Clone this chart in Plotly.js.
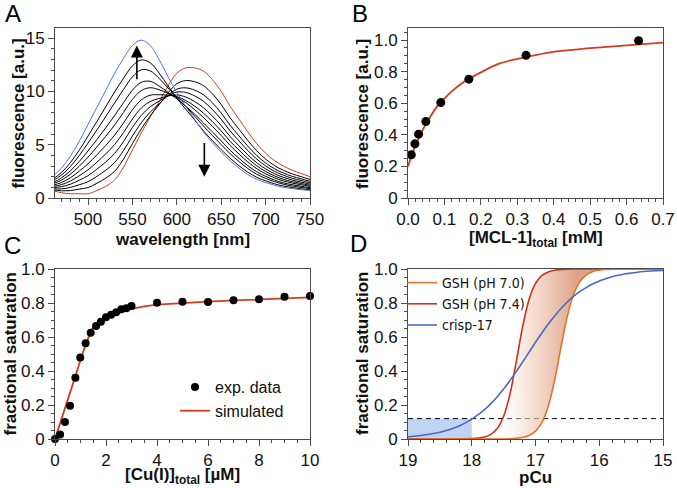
<!DOCTYPE html>
<html><head><meta charset="utf-8">
<script src="https://cdn.plot.ly/plotly-3.0.1.min.js"></script>
<style>html,body{margin:0;padding:0;background:#fff;}#chart{width:677px;height:488px;}</style>
</head><body><div id="chart"></div>
<script>
// ---------- Panel A: emission spectra ----------
const wavelength = [460,470,480,490,500,510,520,530,540,550,560,570,580,590,600,610,620,630,640,650,660,670,680,690,700,710,720,730,740,750];
const specStart = [0.7,0.5,0.4,0.4,0.4,0.7,1.1,1.7,2.9,4.5,6.1,7.6,9.0,10.5,11.7,12.2,12.2,11.9,11.1,10.0,8.6,7.4,6.2,5.1,4.2,3.5,3.0,2.6,2.3,2.0];
const spec1 = [0.77,0.68,0.70,0.83,0.98,1.38,1.86,2.51,3.65,5.10,6.48,7.69,8.74,9.85,10.71,11.01,10.90,10.54,9.77,8.77,7.52,6.45,5.39,4.43,3.65,3.04,2.60,2.26,2.00,1.74];
const spec2 = [0.86,0.86,0.99,1.24,1.53,2.03,2.61,3.33,4.45,5.81,7.06,8.05,8.82,9.61,10.21,10.33,10.12,9.68,8.93,7.97,6.82,5.83,4.86,3.99,3.29,2.74,2.34,2.03,1.80,1.57];
const spec3 = [0.97,1.06,1.29,1.66,2.09,2.71,3.38,4.18,5.30,6.62,7.75,8.55,9.08,9.59,9.93,9.90,9.58,9.07,8.30,7.38,6.29,5.36,4.45,3.65,3.01,2.50,2.14,1.85,1.64,1.43];
const spec4 = [1.07,1.25,1.58,2.08,2.64,3.36,4.14,5.02,6.14,7.41,8.43,9.05,9.33,9.56,9.66,9.47,9.05,8.47,7.69,6.79,5.77,4.89,4.05,3.31,2.73,2.27,1.94,1.68,1.49,1.30];
const spec5 = [1.19,1.45,1.89,2.51,3.21,4.05,4.93,5.90,7.04,8.27,9.20,9.64,9.68,9.64,9.50,9.15,8.62,7.96,7.17,6.29,5.32,4.49,3.70,3.02,2.49,2.07,1.76,1.53,1.36,1.19];
const spec6 = [1.32,1.67,2.23,2.97,3.83,4.79,5.79,6.85,8.03,9.24,10.07,10.34,10.15,9.83,9.45,8.94,8.29,7.55,6.73,5.86,4.93,4.13,3.38,2.75,2.27,1.89,1.60,1.40,1.24,1.09];
const spec7 = [1.43,1.88,2.54,3.41,4.41,5.48,6.59,7.74,8.94,10.11,10.85,10.94,10.50,9.91,9.29,8.62,7.87,7.04,6.20,5.35,4.48,3.72,3.03,2.46,2.03,1.68,1.42,1.25,1.10,0.97];
const spec8 = [1.60,2.15,2.94,3.97,5.15,6.38,7.64,8.92,10.18,11.35,12.02,11.92,11.22,10.32,9.44,8.57,7.69,6.75,5.87,5.00,4.16,3.42,2.76,2.23,1.84,1.53,1.29,1.12,0.99,0.88];
const spec9 = [1.74,2.39,3.30,4.47,5.81,7.18,8.56,9.95,11.23,12.39,12.95,12.68,11.72,10.52,9.37,8.33,7.33,6.30,5.38,4.53,3.73,3.03,2.42,1.94,1.61,1.33,1.12,0.98,0.86,0.77];
const specEnd = [2.0,2.8,3.9,5.3,6.9,8.5,10.1,11.7,13.1,14.3,14.8,14.3,13.0,11.4,9.9,8.6,7.4,6.2,5.2,4.3,3.5,2.8,2.2,1.75,1.45,1.2,1.0,0.88,0.78,0.7];
const arrowX = [555, 631];
const arrowFrom = [11.0, 5.3];
const arrowTo = [14.3, 2.0];

// ---------- Panel B: titration ----------
const mclPoints = [0.009,0.019,0.029,0.049,0.09,0.167,0.324,0.633];
const fluoPoints = [0.274,0.343,0.404,0.484,0.604,0.752,0.903,0.996];
const mclFit = [0,0.01,0.02,0.03,0.04,0.05,0.06,0.08,0.1,0.12,0.15,0.2,0.25,0.3,0.35,0.4,0.45,0.5,0.6,0.7];
const fluoFit = [0.20,0.27,0.33,0.38,0.43,0.47,0.51,0.58,0.63,0.675,0.73,0.795,0.85,0.88,0.905,0.925,0.937,0.948,0.966,0.983];

// ---------- Panel C: Cu(I) titration ----------
const cuPoints = [0,0.2,0.39,0.59,0.8,0.99,1.2,1.4,1.61,1.8,2.0,2.2,2.4,2.6,2.8,3.0,4,5,6,7,8,9,10];
const satPoints = [0,0.027,0.10,0.196,0.36,0.48,0.563,0.625,0.665,0.69,0.716,0.731,0.745,0.763,0.769,0.782,0.802,0.808,0.806,0.816,0.822,0.837,0.841];
const cuSim = [0,0.2,0.4,0.6,0.8,1.0,1.2,1.4,1.5,1.6,1.8,2.0,2.2,2.5,3.0,3.5,4,5,6,7,8,9,10];
const satSim = [0,0.09,0.18,0.275,0.37,0.465,0.555,0.63,0.66,0.675,0.695,0.712,0.725,0.742,0.765,0.78,0.79,0.80,0.808,0.815,0.822,0.828,0.833];

// ---------- Panel D: pCu ----------
const pCu = [19.0,18.9,18.8,18.7,18.6,18.5,18.4,18.3,18.2,18.1,18.0,17.9,17.8,17.7,17.6,17.5,17.4,17.3,17.2,17.1,17.0,16.9,16.8,16.7,16.6,16.5,16.4,16.3,16.2,16.1,16.0,15.9,15.8,15.7,15.6,15.5,15.4,15.3,15.2,15.1,15.0];
const gshPH70 = [0,0,0,0,0,0,0,0,0,0,0,0,0,0,0,0,0.001,0.004,0.010,0.021,0.046,0.096,0.192,0.345,0.540,0.723,0.853,0.928,0.966,0.985,0.993,0.997,0.999,1,1,1,1,1,1,1,1];
const gshPH74 = [0,0,0,0,0,0,0,0,0,0.001,0.002,0.005,0.012,0.027,0.062,0.134,0.265,0.458,0.664,0.822,0.915,0.962,0.983,0.993,0.997,0.999,1,1,1,1,1,1,1,1,1,1,1,1,1,1,1];
const crisp17 = [0.013,0.016,0.021,0.026,0.032,0.040,0.050,0.062,0.077,0.095,0.117,0.143,0.173,0.208,0.249,0.294,0.345,0.398,0.454,0.511,0.569,0.624,0.676,0.724,0.768,0.806,0.840,0.868,0.892,0.913,0.929,0.943,0.954,0.963,0.971,0.976,0.981,0.985,0.988,0.990,0.992];
const threshold = 0.12;
const thresholdX = [19, 15];
const shadeX = [19, 18];

// ---------- styles ----------
const FONT = 'Liberation Sans, Arial, Helvetica, sans-serif';
const NARROW = 'Liberation Sans Narrow, DejaVu Sans Condensed, Liberation Sans, sans-serif';
const RED = 'rgb(214,58,32)';
const BLUE = 'rgb(85,115,215)';
const ORANGE = 'rgb(226,116,48)';
const DRED = 'rgb(206,48,28)';
const DBLUE = 'rgb(72,104,200)';
const W = 677, H = 488;

function axis(o) {
  return Object.assign({
    showline: true, linecolor: '#4a4a4a', linewidth: 1, mirror: true,
    ticks: 'outside', ticklen: 6, tickwidth: 1, tickcolor: '#4a4a4a',
    showgrid: false, zeroline: false, automargin: false,
    tickfont: {family: FONT, size: 17, color: '#111'}
  }, o);
}
const minorTicks = d => ({dtick: d, ticklen: 3, ticks: 'outside', tickcolor: '#4a4a4a'});

const traces = [];
const specList = [specStart, spec1, spec2, spec3, spec4, spec5, spec6, spec7, spec8, spec9, specEnd];
specList.forEach((s, i) => {
  const color = i === 0 ? RED : (i === specList.length - 1 ? BLUE : '#000');
  traces.push({x: wavelength, y: s, xaxis: 'x', yaxis: 'y', mode: 'lines',
    line: {color: color, width: 1, shape: 'spline'}, showlegend: false, hoverinfo: 'skip'});
});

traces.push({x: mclFit, y: fluoFit, xaxis: 'x2', yaxis: 'y2', mode: 'lines',
  line: {color: RED, width: 1.8, shape: 'spline'}, showlegend: false});
traces.push({x: mclPoints, y: fluoPoints, xaxis: 'x2', yaxis: 'y2', mode: 'markers', cliponaxis: false,
  marker: {color: '#000', size: 9}, showlegend: false});

traces.push({x: cuSim, y: satSim, xaxis: 'x3', yaxis: 'y3', mode: 'lines',
  line: {color: RED, width: 1.8}, name: 'simulated', legend: 'legend', legendrank: 2});
traces.push({x: cuPoints, y: satPoints, xaxis: 'x3', yaxis: 'y3', mode: 'markers', cliponaxis: false,
  marker: {color: '#000', size: 8}, name: 'exp. data', legend: 'legend', legendrank: 1});

// panel D
traces.push({x: shadeX, y: [threshold, threshold], xaxis: 'x4', yaxis: 'y4', mode: 'lines',
  line: {width: 0}, fill: 'tozeroy', fillcolor: 'rgb(192,213,246)', showlegend: false, hoverinfo: 'skip'});
traces.push({x: thresholdX, y: [threshold, threshold], xaxis: 'x4', yaxis: 'y4', mode: 'lines',
  line: {color: '#000', width: 1, dash: '5px,4px'}, showlegend: false, hoverinfo: 'skip'});
traces.push({x: pCu, y: gshPH74, xaxis: 'x4', yaxis: 'y4', mode: 'lines',
  line: {color: DRED, width: 1.6, shape: 'spline'}, name: 'GSH (pH 7.4)', legend: 'legend2', legendrank: 2});
traces.push({x: pCu, y: gshPH70, xaxis: 'x4', yaxis: 'y4', mode: 'lines',
  line: {width: 0, shape: 'spline'}, showlegend: false, hoverinfo: 'skip',
  fill: 'tonexty',
  fillgradient: {type: 'horizontal', start: 17.7, stop: 16.35,
    colorscale: [[0, 'rgba(255,255,255,0)'], [0.45, 'rgba(242,210,192,0.65)'], [1, 'rgba(214,140,106,0.8)']]}});
traces.push({x: pCu, y: gshPH70, xaxis: 'x4', yaxis: 'y4', mode: 'lines',
  line: {color: ORANGE, width: 1.6, shape: 'spline'}, name: 'GSH (pH 7.0)', legend: 'legend2', legendrank: 1});
traces.push({x: pCu, y: crisp17, xaxis: 'x4', yaxis: 'y4', mode: 'lines',
  line: {color: DBLUE, width: 1.6, shape: 'spline'}, name: 'crisp-17', legend: 'legend2', legendrank: 3});

const yTop = [1 - 198/H, 1 - 28/H];
const yBot = [1 - 439/H, 1 - 269/H];
const xLeft = [55/W, 310/W];
const xRight = [408/W, 663/W];

const annotations = [
  {text: 'A', x: 13, y: 13},
  {text: 'B', x: 360, y: 13},
  {text: 'C', x: 12, y: 245},
  {text: 'D', x: 358, y: 243}
].map(a => ({xref: 'paper', yref: 'paper', xanchor: 'center', yanchor: 'middle', showarrow: false,
  text: a.text, x: a.x / W, y: 1 - a.y / H, font: {family: FONT, size: 24, color: '#000'}}));

// axis titles
[
  {text: '<b>wavelength [nm]</b>', x: 182.5, y: 239, a: 0},
  {text: '<b>[MCL-1]<sub>total</sub> [mM]</b>', x: 535.5, y: 239, a: 0},
  {text: '<b>[Cu(I)]<sub>total</sub> [µM]</b>', x: 182.5, y: 476, a: 0},
  {text: '<b>pCu</b>', x: 535.5, y: 477.5, a: 0},
  {text: '<b>fluorescence [a.u.]</b>', x: 18.5, y: 114, a: -90},
  {text: '<b>fluorescence [a.u.]</b>', x: 363, y: 114, a: -90},
  {text: '<b>fractional saturation</b>', x: 9.5, y: 354, a: -90},
  {text: '<b>fractional saturation</b>', x: 362, y: 354, a: -90}
].forEach(t => annotations.push({xref: 'paper', yref: 'paper', xanchor: 'center', yanchor: 'middle',
  showarrow: false, text: t.text, textangle: t.a, x: t.x / W, y: 1 - t.y / H,
  font: {family: FONT, size: 17, color: '#111'}}));

arrowX.forEach((ax, i) => {
  annotations.push({xref: 'x', yref: 'y', axref: 'x', ayref: 'y', x: ax, y: arrowTo[i], ax: ax, ay: arrowFrom[i],
    text: '', showarrow: true, arrowhead: 2, arrowsize: 1.5, arrowwidth: 1.6, arrowcolor: '#000'});
});

const layout = {
  width: W, height: H, margin: {l: 0, r: 0, t: 0, b: 0},
  paper_bgcolor: '#fff', plot_bgcolor: '#fff',
  font: {family: FONT, size: 17, color: '#111'},
  xaxis: axis({domain: xLeft, anchor: 'y', range: [462.8, 750], dtick: 50, tick0: 500, minor: minorTicks(10)}),
  yaxis: axis({domain: yTop, anchor: 'x', range: [0, 15.94], dtick: 5, minor: minorTicks(1)}),
  xaxis2: axis({domain: xRight, anchor: 'y2', range: [0, 0.7], dtick: 0.1, tickformat: '.1f', minor: minorTicks(0.02)}),
  yaxis2: axis({domain: yTop, anchor: 'x2', range: [0, 1.076],
    tickvals: [0, 0.2, 0.4, 0.6, 0.8, 1.0], ticktext: ['0', '0.2', '0.4', '0.6', '0.8', '1.0'], minor: minorTicks(0.05)}),
  xaxis3: axis({domain: xLeft, anchor: 'y3', range: [0, 10], dtick: 2, minor: minorTicks(0.5)}),
  yaxis3: axis({domain: yBot, anchor: 'x3', range: [0, 1],
    tickvals: [0, 0.2, 0.4, 0.6, 0.8, 1.0], ticktext: ['0', '0.2', '0.4', '0.6', '0.8', '1.0'], minor: minorTicks(0.05)}),
  xaxis4: axis({domain: xRight, anchor: 'y4', range: [19, 15], dtick: 1, minor: minorTicks(0.2)}),
  yaxis4: axis({domain: yBot, anchor: 'x4', range: [0, 1],
    tickvals: [0, 0.2, 0.4, 0.6, 0.8, 1.0], ticktext: ['0', '0.2', '0.4', '0.6', '0.8', '1.0'], minor: minorTicks(0.05)}),
  legend: {x: 175/W, y: 1 - 370/H, xanchor: 'left', yanchor: 'top', bgcolor: 'rgba(0,0,0,0)',
    borderwidth: 0, font: {family: FONT, size: 16, color: '#111'}, traceorder: 'normal'},
  legend2: {x: 402/W, y: 1 - 267/H, xanchor: 'left', yanchor: 'top', bgcolor: 'rgba(0,0,0,0)',
    borderwidth: 0, font: {family: NARROW, size: 14, color: '#111'}, traceorder: 'normal'},
  annotations: annotations,
  showlegend: true
};

Plotly.newPlot('chart', traces, layout, {displayModeBar: false, staticPlot: true});
</script>
</body></html>
